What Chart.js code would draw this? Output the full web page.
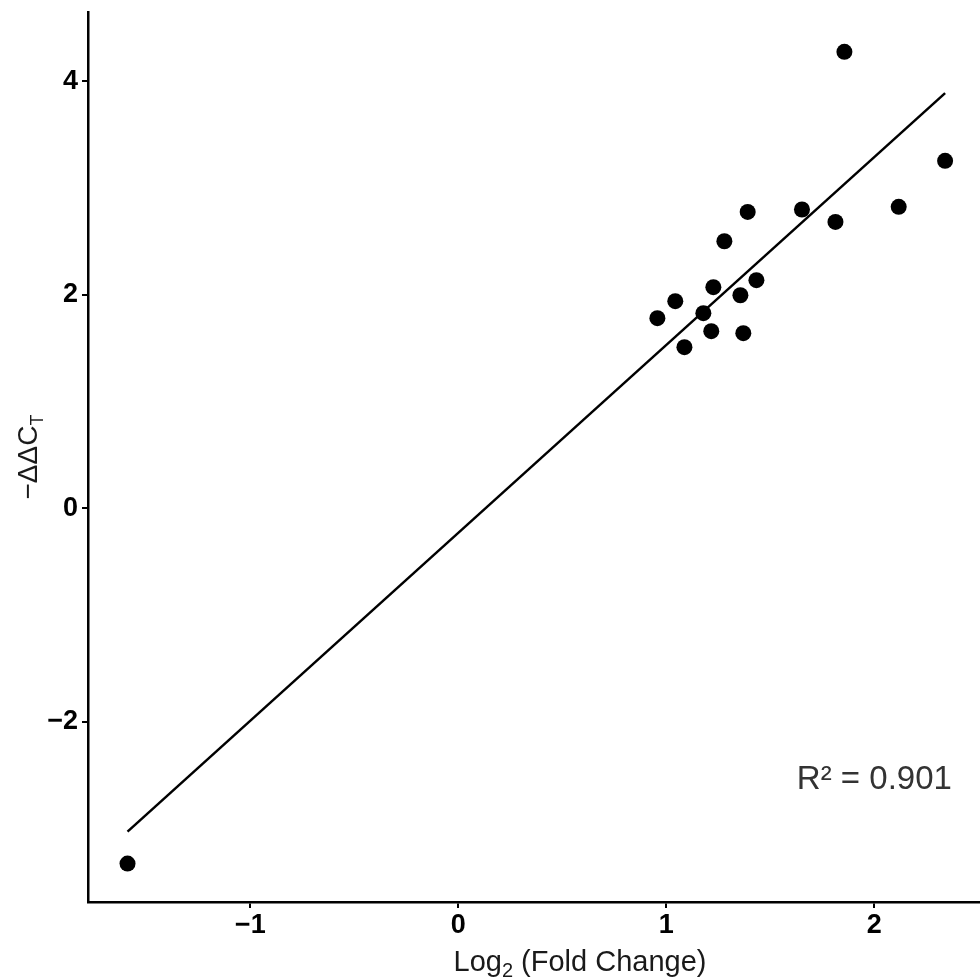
<!DOCTYPE html>
<html>
<head>
<meta charset="utf-8">
<script src="https://cdn.jsdelivr.net/npm/chart.js@4.4.0/dist/chart.umd.min.js"></script>
<style>
  html, body { margin: 0; padding: 0; background: #fff; overflow: hidden; }
  #wrap { width: 980px; height: 980px; overflow: hidden; }
</style>
</head>
<body>
<div id="wrap"><canvas id="grafico" width="1080" height="980"></canvas></div>
<script>
// Valores (log2 fold change x -ΔΔCt)
const log2Fold = [-1.59, 0.957, 1.043, 1.087, 1.178, 1.226, 1.216, 1.279, 1.356, 1.370, 1.433, 1.391, 1.652, 1.813, 1.856, 2.117, 2.340];
const deltaCt = [-3.33, 1.781, 1.940, 1.509, 1.828, 2.071, 1.659, 2.502, 1.996, 1.640, 2.137, 2.777, 2.799, 2.683, 4.277, 2.824, 3.255];

// reta de regressão (extremos)
const ajusteX = [-1.59, 2.34];
const ajusteY = [-3.03, 3.89];

const ticksX = [-1, 0, 1, 2];
const ticksY = [-2, 0, 2, 4];

const r2Texto = "R\u00B2 = 0.901";
const r2PosX = 2.0;
const r2PosY = -2.55;

const fonteBase = '"Liberation Sans", Arial, sans-serif';

function rotuloTick(v) {
  return v < 0 ? "\u2212" + Math.abs(v) : String(v);
}

// Títulos dos eixos (com subscrito) e anotação do R²
const titulosPlugin = {
  id: "titulos",
  afterDraw(chart) {
    const { ctx, chartArea, scales } = chart;
    ctx.save();
    ctx.fillStyle = "#1a1a1a";
    ctx.textBaseline = "alphabetic";
    ctx.textAlign = "left";

    // ===== eixo X: Log2 (Fold Change) =====
    const partesX = [
      { t: "Log", f: "29px " + fonteBase, dy: 0 },
      { t: "2", f: "20px " + fonteBase, dy: 6 },
      { t: " (Fold Change)", f: "29px " + fonteBase, dy: 0 }
    ];
    let total = 0;
    partesX.forEach(p => { ctx.font = p.f; p.w = ctx.measureText(p.t).width; total += p.w; });
    let xx = (chartArea.left + chartArea.right) / 2 - total / 2;
    const baseX = chartArea.bottom + 69;
    partesX.forEach(p => {
      ctx.font = p.f;
      ctx.fillText(p.t, xx, baseX + p.dy);
      xx += p.w;
    });

    // ===== eixo Y: −ΔΔC_T (rotacionado) =====
    const partesY = [
      { t: "\u2212\u0394\u0394C", f: "28px " + fonteBase, dy: 0 },
      { t: "T", f: "18px " + fonteBase, dy: 6 }
    ];
    total = 0;
    partesY.forEach(p => { ctx.font = p.f; p.w = ctx.measureText(p.t).width; total += p.w; });
    ctx.translate(37, (chartArea.top + chartArea.bottom) / 2);
    ctx.rotate(-Math.PI / 2);
    let yy = -total / 2;
    partesY.forEach(p => {
      ctx.font = p.f;
      ctx.fillText(p.t, yy, p.dy);
      yy += p.w;
    });
    ctx.setTransform(1, 0, 0, 1, 0, 0);

    // ===== anotação R² =====
    ctx.fillStyle = "#333";
    ctx.font = "33px " + fonteBase;
    ctx.textAlign = "center";
    ctx.textBaseline = "middle";
    ctx.fillText(r2Texto, scales.x.getPixelForValue(r2PosX), scales.y.getPixelForValue(r2PosY));
    ctx.restore();
  }
};

const eixoComum = {
  type: "linear",
  grid: { display: true, drawOnChartArea: false, drawTicks: true, tickLength: 6, color: "#000", lineWidth: 2 },
  border: { display: true, color: "#000", width: 2.5 },
  title: { display: false }
};

new Chart(document.getElementById("grafico").getContext("2d"), {
  type: "scatter",
  data: {
    datasets: [
      {
        label: "ajuste",
        type: "line",
        data: ajusteX.map((x, i) => ({ x: x, y: ajusteY[i] })),
        borderColor: "#000",
        borderWidth: 2.5,
        pointRadius: 0,
        fill: false,
        tension: 0
      },
      {
        label: "amostras",
        data: log2Fold.map((x, i) => ({ x: x, y: deltaCt[i] })),
        backgroundColor: "#000",
        borderColor: "#000",
        pointRadius: 8,
        borderWidth: 0
      }
    ]
  },
  options: {
    responsive: false,
    devicePixelRatio: 1,
    animation: false,
    layout: { padding: { top: 12, right: 8, left: 0, bottom: 0 } },
    plugins: {
      legend: { display: false },
      tooltip: { enabled: false }
    },
    scales: {
      x: {
        ...eixoComum,
        min: -1.78,
        max: 2.95,
        afterBuildTicks: axis => { axis.ticks = ticksX.map(v => ({ value: v })); },
        afterFit: scale => {
          scale.height = 78;
          scale.paddingLeft = 0;
          scale.paddingRight = 0;
        },
        ticks: {
          color: "#000",
          font: { family: fonteBase, weight: "bold", size: 27 },
          padding: 1,
          autoSkip: false,
          maxRotation: 0,
          callback: rotuloTick
        }
      },
      y: {
        ...eixoComum,
        min: -3.69,
        max: 4.65,
        afterBuildTicks: axis => { axis.ticks = ticksY.map(v => ({ value: v })); },
        afterFit: scale => {
          scale.width = 88;
          scale.paddingTop = 0;
          scale.paddingBottom = 0;
        },
        ticks: {
          color: "#000",
          font: { family: fonteBase, weight: "bold", size: 27 },
          padding: 4,
          autoSkip: false,
          callback: rotuloTick
        }
      }
    }
  },
  plugins: [titulosPlugin]
});
</script>
</body>
</html>
